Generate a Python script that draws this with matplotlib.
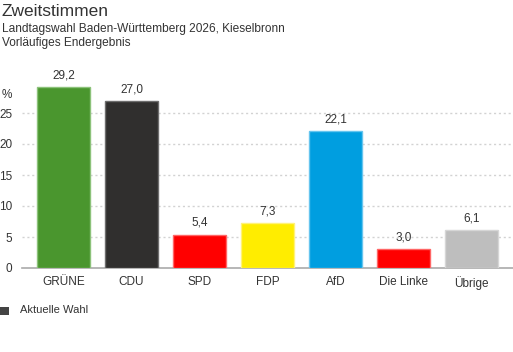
import matplotlib
matplotlib.use("Agg")
import matplotlib.pyplot as plt
from matplotlib.patches import Rectangle

parties = ["GRÜNE", "CDU", "SPD", "FDP", "AfD", "Die Linke", "Übrige"]
votes = [29.2, 27.0, 5.4, 7.3, 22.1, 3.0, 6.1]
colors = ["#4a962e", "#302f2e", "#ff0000", "#ffed00", "#009ee0", "#ff0000", "#bebebe"]
edges = ["#8cc27a", "#6e6e6e", "#ff6666", "#fff27a", "#66c5ef", "#ff6666", "#d6d6d6"]
yticks = [0, 5, 10, 15, 20, 25]

plt.rcParams["font.family"] = ["Liberation Sans", "DejaVu Sans"]

fig = plt.figure(figsize=(5.13, 3.52), dpi=100)
W, H = 513, 352
ax = fig.add_axes([22 / W, (H - 268) / H, 491 / W, 186 / H])

x = list(range(len(parties)))
ax.bar(x, votes, width=0.78, color=colors, edgecolor=edges, linewidth=1, zorder=3)
for xi, v in zip(x, votes):
    ax.text(xi, v + 0.9, f"{v:.1f}".replace(".", ","), ha="center", va="bottom",
            fontsize=8.5, color="#333333")

ax.set_xlim(-0.61, 6.61)
ax.set_ylim(0, 30)
ax.set_xticks(x)
ax.set_xticklabels(parties, fontsize=8.5, color="#333333")
ax.set_yticks(yticks)
ax.set_yticklabels([str(t) for t in yticks], fontsize=8.5, color="#333333")
ax.tick_params(axis="both", length=0)
ax.tick_params(axis="x", pad=6)
ax.tick_params(axis="y", pad=7)

# dotted gridlines, light grey
for g in yticks[1:]:
    ax.axhline(g, color="#d2d2d2", linestyle=(0, (1.5, 2)), linewidth=1, zorder=1)

for s in ["top", "right", "left"]:
    ax.spines[s].set_visible(False)
ax.spines["bottom"].set_color("#aaaaaa")
ax.spines["bottom"].set_linewidth(1.2)

fig.text(2 / W, 1 - 95 / H, "%", fontsize=8.5, color="#333333", va="center")
fig.text(2 / W, 1 - 12 / H, "Zweitstimmen", fontsize=12.5, color="#333333", va="center")
fig.text(2 / W, 1 - 29 / H, "Landtagswahl Baden-Württemberg 2026, Kieselbronn",
         fontsize=8.55, color="#333333", va="center")
fig.text(2 / W, 1 - 43 / H, "Vorläufiges Endergebnis", fontsize=8.55, color="#333333", va="center")

fig.patches.append(Rectangle((0, 1 - 315 / H), 9 / W, 8 / H, transform=fig.transFigure,
                             facecolor="#444444", edgecolor="none"))
fig.text(20 / W, 1 - 310 / H, "Aktuelle Wahl", fontsize=8, color="#333333", va="center")

fig.savefig("out.png", dpi=100)
